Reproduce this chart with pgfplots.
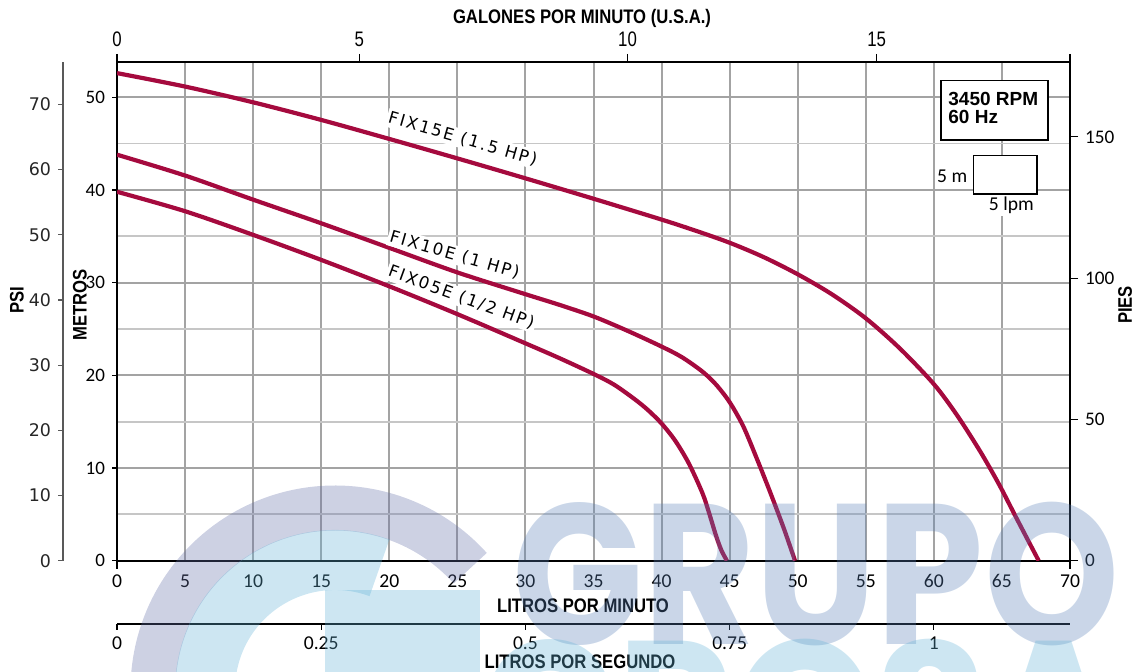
\documentclass[border=0pt]{standalone}
\usepackage{fontspec}
\setmainfont{Carlito}
\newfontfamily\dejavu{DejaVu Sans}
\newfontfamily\curvefont[LetterSpace=12]{DejaVu Sans}
\newfontfamily\arial{Liberation Sans}
\newfontfamily\poppins{Poppins}
\usepackage{graphicx}
\usepackage{pgfplots}
\usepackage{pgfplotstable}
\pgfplotsset{compat=1.18}

\definecolor{curve}{HTML}{A50A3E}
\definecolor{gridc}{HTML}{A3A3A3}
\definecolor{gridl}{HTML}{C6C6C6}
\definecolor{wmgrupo}{HTML}{5981B8}
\definecolor{wmlav}{HTML}{6570A8}
\definecolor{wmblue}{HTML}{62B2D7}

\newcommand{\cond}[1]{\scalebox{0.85}[1]{#1}}
\newcommand{\titlefont}{\arial\bfseries\fontsize{9.8}{10}\selectfont}

\pgfplotstableread{
L m
0 52.6
5 51.15
10 49.45
15 47.55
20 45.5
25 43.4
30 41.25
35 39.05
40 36.8
42.5 35.6
45 34.3
47.5 32.75
50 30.9
52.5 28.75
55 26.15
57.5 22.9
60 19.05
61.7 15.7
63.4 11.8
64.8 8.2
66.1 4.5
67.7 0
}\fixA

\pgfplotstableread{
L m
0 43.8
5 41.55
10 38.95
15 36.4
20 33.75
25 31.1
30 28.75
32.5 27.6
35 26.35
37.5 24.8
40 23.1
41.5 21.95
43 20.4
44 19.0
45 17.1
46 14.5
47 11.0
48 7.3
49 3.4
49.8 0
}\fixB

\pgfplotstableread{
L m
0 39.8
5 37.7
10 35.15
15 32.45
20 29.6
25 26.6
30 23.45
32.5 21.85
35 20.15
36.5 19.0
38 17.45
39 16.25
40 14.8
41 12.95
42 10.5
43 7.3
43.5 5.1
44 2.7
44.4 1.1
44.8 0
}\fixC

\begin{document}
\begin{tikzpicture}
\path[use as bounding box] (0pt,0pt) rectangle (568.5pt,-336pt);

% PSI axis
\begin{axis}[
  at={(31.5pt,-280.35pt)}, anchor=south west,
  scale only axis, width=1pt, height=249.35pt,
  xmin=0, xmax=1, ymin=0, ymax=76.5,
  hide x axis, axis y line*=left,
  ytick={0,10,...,70},
  tick align=outside, major tick length=2.5pt,
  axis line style={draw=black!65, line width=0.8pt},
  ytick style={draw=black!65, line width=0.6pt},
  /pgf/number format/assume math mode=true,
  yticklabel style={font=\dejavu\fontsize{8.7}{10}\selectfont, text=black!85},
]
\addplot[draw=none] coordinates {(0,0)};
\end{axis}

% main axis
\begin{axis}[
  at={(58.5pt,-280.35pt)}, anchor=south west,
  scale only axis, width=476.5pt, height=249.35pt,
  xmin=0, xmax=70, ymin=0, ymax=53.8,
  xtick={0,5,...,70}, ytick={0,10,...,50}, minor ytick={5,15,...,45},
  xtick pos=bottom, ytick pos=left,
  grid=both,
  major grid style={draw=gridc, line width=1pt},
  minor grid style={draw=gridl, line width=0.9pt},
  axis line style={line width=1pt},
  tick align=outside,
  xtick style={draw=none},
  ytick style={draw=black, line width=0.6pt},
  major tick length=2.5pt, minor tick length=0pt,
  /pgf/number format/assume math mode=true,
  xticklabel style={font=\fontsize{9.8}{10}\selectfont, yshift=-1pt},
  yticklabel style={font=\fontsize{9.5}{10}\selectfont},
  extra x ticks={0,70}, extra x tick labels={},
  extra x tick style={grid=none, xtick style={draw=black, line width=1pt}, major tick length=4pt},
]
\addplot[curve, line width=2.1pt, smooth, tension=0.5] table {\fixA};
\addplot[curve, line width=2.1pt, smooth, tension=0.5] table {\fixB};
\addplot[curve, line width=2.1pt, smooth, tension=0.5] table {\fixC};

\node[rotate=-16, fill=white, inner sep=1pt, font=\curvefont\fontsize{8.3}{9}\selectfont] at (axis cs:25.4,45.5) {FIX15E (1.5 HP)};
\node[rotate=-16, fill=white, inner sep=1pt, font=\curvefont\fontsize{8.3}{9}\selectfont] at (axis cs:24.8,33.0) {FIX10E (1 HP)};
\node[rotate=-20, fill=white, inner sep=1pt, font=\curvefont\fontsize{8.3}{9}\selectfont] at (axis cs:25.3,28.4) {FIX05E (1/2 HP)};

\draw[fill=white, line width=0.75pt] (axis cs:60.54,51.78) rectangle (axis cs:68.38,45.38);
\node[anchor=base west, inner sep=0pt, font=\arial\bfseries\fontsize{9.5}{10}\selectfont] at (axis cs:61.04,49.16) {3450 RPM};
\node[anchor=base west, inner sep=0pt, font=\arial\bfseries\fontsize{9.5}{10}\selectfont] at (axis cs:61.04,47.18) {60 Hz};

\draw[fill=white, line width=0.75pt] (axis cs:62.9,43.69) rectangle (axis cs:67.57,39.56);
\node[fill=white, inner sep=1pt, font=\fontsize{9.8}{10}\selectfont] at (axis cs:61.35,41.42) {5 m};
\node[fill=white, inner sep=1pt, font=\fontsize{9.8}{10}\selectfont] at (axis cs:65.69,38.3) {5 lpm};
\end{axis}

% right axis (PIES)
\begin{axis}[
  at={(58.5pt,-280.35pt)}, anchor=south west,
  scale only axis, width=476.5pt, height=249.35pt,
  xmin=0, xmax=70, ymin=0, ymax=176.5,
  hide x axis, axis y line*=right,
  ytick={0,50,100,150},
  tick align=outside, major tick length=4pt,
  axis line style={line width=1pt},
  ytick style={draw=black, line width=0.6pt},
  /pgf/number format/assume math mode=true,
  yticklabel style={font=\fontsize{9.6}{10}\selectfont},
]
\addplot[draw=none] coordinates {(0,0)};
\end{axis}

% top axis (GPM)
\begin{axis}[
  at={(58.5pt,-280.35pt)}, anchor=south west,
  scale only axis, width=476.5pt, height=249.35pt,
  xmin=0, xmax=70, ymin=0, ymax=1,
  hide y axis, axis x line*=top,
  xtick={0,17.8,37.5,55.8,70},
  xticklabels={\scalebox{0.8}[1]{0},\scalebox{0.8}[1]{5},\scalebox{0.8}[1]{10},\scalebox{0.8}[1]{15},{}},
  tick align=outside, major tick length=4pt,
  axis line style={line width=1.4pt},
  xtick style={draw=black, line width=0.8pt},
  xticklabel style={font=\arial\fontsize{10.5}{11}\selectfont},
]
\addplot[draw=none] coordinates {(0,0)};
\end{axis}

% LPS axis
\begin{axis}[
  at={(58.5pt,-312pt)}, anchor=south west,
  scale only axis, width=476.5pt, height=1pt,
  xmin=0, xmax=70, ymin=0, ymax=1,
  hide y axis, axis x line*=bottom,
  xtick={0,15,30,45,60},
  xticklabels={0,0.25,0.5,0.75,1},
  tick align=outside, major tick length=3pt,
  axis line style={line width=0.6pt},
  xtick style={draw=black, line width=0.6pt},
  xticklabel style={font=\fontsize{9.8}{10}\selectfont},
]
\addplot[draw=none] coordinates {(0,0)};
\end{axis}

% titles
\node[font=\titlefont] at (291pt,-9pt) {\cond{GALONES POR MINUTO (U.S.A.)}};
\node[font=\titlefont] at (291.5pt,-303pt) {\cond{LITROS POR MINUTO}};
\node[font=\titlefont] at (290pt,-331pt) {\cond{LITROS POR SEGUNDO}};
\node[font=\titlefont, rotate=90] at (8.5pt,-150pt) {\cond{PSI}};
\node[font=\titlefont, rotate=90] at (40pt,-152.5pt) {\cond{METROS}};
\node[font=\titlefont, rotate=90] at (562.5pt,-152.5pt) {\cond{PIES}};

% watermark
\begin{scope}[x=0.5pt,y=-0.5pt]
\clip (0,0) rectangle (1137,672);
\begin{scope}[opacity=0.32]
\draw[wmlav, line width=22.5pt] (335,690) ++(-42:182) arc[start angle=-42, end angle=-200, radius=182];
\draw[wmblue, line width=30pt] (335,690) ++(-70:130) arc[start angle=-70, end angle=-200, radius=130];
\fill[wmblue] (325,590) rectangle (480,672);
\node[anchor=base west, inner sep=0pt, text=wmgrupo, font=\poppins\bfseries\fontsize{100}{100}\selectfont] at (512,645) {\scalebox{0.86}[1]{GRUPO}};
\node[anchor=base west, inner sep=0pt, text=wmblue, font=\poppins\bfseries\fontsize{100}{100}\selectfont] at (480,782) {\scalebox{0.9}[1]{GROSA}};
\end{scope}
\end{scope}
\end{tikzpicture}
\end{document}
